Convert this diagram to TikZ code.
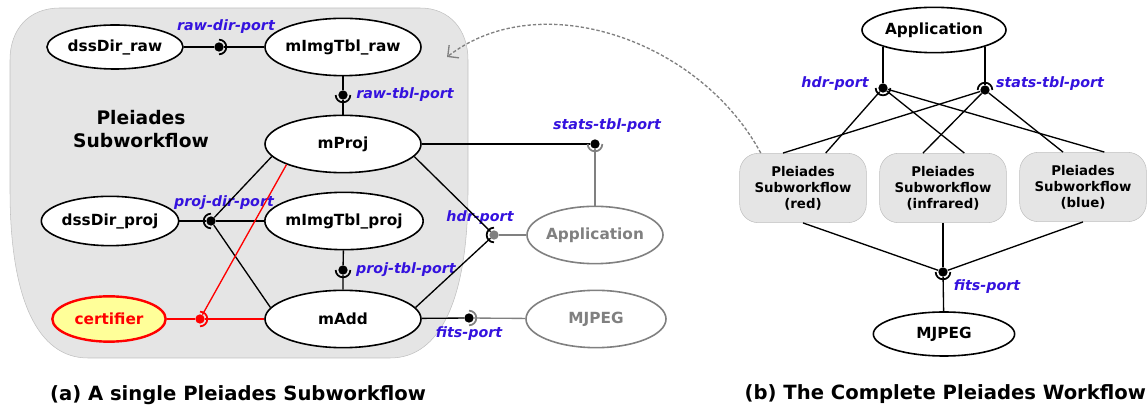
\documentclass[tikz,border=0pt]{standalone}
\usepackage{fontspec}
\setmainfont{DejaVu Sans}
\usepackage{xcolor}
\usetikzlibrary{shapes.geometric}
\usetikzlibrary{arrows.meta,calc}

\definecolor{portblue}{RGB}{52,18,222}
\definecolor{subgray}{RGB}{229,229,229}
\definecolor{edgegray}{RGB}{192,192,192}
\definecolor{compgray}{RGB}{128,128,128}
\definecolor{certfill}{RGB}{255,255,153}

\begin{document}
\begin{tikzpicture} [
       x=0.75pt, y=-0.75pt,
       comp/.style={ellipse, draw, line width=1.2pt, fill=white,
               inner xsep=-2pt, inner ysep=0pt,
               minimum width=117pt, minimum height=43pt,
               font=\fontsize{11.5}{13}\selectfont\bfseries},
       ghost/.style={comp, draw=compgray, text=compgray},
       cert/.style={comp, draw=red, line width=1.8pt, fill=certfill, text=red},
       sub/.style={rectangle, rounded corners=14pt, draw=edgegray, fill=subgray,
               minimum width=95pt, minimum height=52pt, align=center,
               font=\fontsize{10}{12}\selectfont\bfseries},
       port/.style={circle, fill, inner sep=0pt, minimum size=7pt},
       socket/.style={line width=1.3pt},
       portlabel/.style={text=portblue, inner sep=1pt,
               font=\fontsize{10.7}{12}\selectfont\bfseries\itshape},
       line/.style={draw, line width=1pt},
       refer/.style={draw=compgray, line width=1pt, dash pattern=on 2.5pt off 1.5pt,
               -{Straight Barb[length=6pt,width=12pt]}},
       caption/.style={font=\fontsize{14.7}{17}\selectfont\bfseries},
       ]
       \useasboundingbox (0,0) rectangle (1147,409);

       \fill[subgray, draw=edgegray] (60,8) -- (420,8) .. controls (450,8) and (468,30) .. (468,60)
           -- (468,190) .. controls (468,300) and (440,358) .. (390,358)
           -- (88,358) .. controls (38,358) and (10,300) .. (10,190)
           -- (10,60) .. controls (10,30) and (28,8) .. (60,8) -- cycle;
       \coordinate (subedge) at (447,57);
       \node (subtitle) [align=center, font=\fontsize{14}{17}\selectfont\bfseries] at (141,129) {Pleiades\\Subworkflow};

       \node (dssraw) [comp, minimum width=102pt, minimum height=33pt] at (115,47) {dssDir\_raw};
       \node (tblraw) [comp] at (343,47) {mImgTbl\_raw};
       \node (proj) [comp] at (343,144) {mProj};
       \node (dssproj) [comp, minimum width=103pt, minimum height=37pt] at (110,221) {dssDir\_proj};
       \node (tblproj) [comp] at (344,221) {mImgTbl\_proj};
       \node (add) [comp] at (343,319) {mAdd};
       \node (certifier) [cert, minimum width=85pt, minimum height=34pt] at (109,319) {certifier};
       \node (appa) [ghost, minimum width=102pt] at (595,235) {Application};
       \node (mjpega) [ghost, minimum width=105pt] at (596,319) {MJPEG};

       \node (rawdir) [port] at (219,47) {};
       \node (rawtbl) [port] at (343,95) {};
       \node (projdir) [port] at (211,221) {};
       \node (projtbl) [port] at (343,270) {};
       \node (certport) [port, red] at (200,319) {};
       \node (statsa) [port] at (595,144) {};
       \node (hdra) [port, compgray] at (494,235) {};
       \node (fitsa) [port] at (469,318) {};

       \node (rawdirl) [portlabel] at (226,27) {raw-dir-port};
       \node (rawtbll) [portlabel] at (405,95) {raw-tbl-port};
       \node (projdirl) [portlabel] at (224,203) {proj-dir-port};
       \node (projtbll) [portlabel] at (406,270) {proj-tbl-port};
       \node (statsal) [portlabel] at (607,126) {stats-tbl-port};
       \node (hdral) [portlabel] at (480,218) {hdr-port};
       \node (fitsal) [portlabel] at (469,334) {fits-port};

       \node (appb) [comp, minimum width=108pt, minimum height=34pt] at (934,30) {Application};
       \node (redsub) [sub] at (803,188) {Pleiades\\Subworkflow\\(red)};
       \node (irsub) [sub] at (943,188) {Pleiades\\Subworkflow\\(infrared)};
       \node (bluesub) [sub] at (1083,187) {Pleiades\\Subworkflow\\(blue)};
       \node (mjpegb) [comp, minimum width=106pt, minimum height=33pt] at (944,334) {MJPEG};
       \node (hdrb) [port] at (883,88) {};
       \node (statsb) [port] at (985,90) {};
       \node (fitsb) [port] at (943,272) {};
       \node (hdrbl) [portlabel] at (835,84) {hdr-port};
       \node (statsbl) [portlabel] at (1050,84) {stats-tbl-port};
       \node (fitsbl) [portlabel] at (987,287) {fits-port};

       \node (capa) [caption] at (238,395) {(a) A single Pleiades Subworkflow};
       \node (capb) [caption, anchor=west] at (740,394) {(b) The Complete Pleiades Workflow};

       \begin{scope}[every path/.style=line]
       \path (dssraw) -- (rawdir) -- (tblraw);
       \path (tblraw) -- (rawtbl) -- (proj);
       \path (proj.190) -- (projdir) -- (add.171);
       \path (dssproj) -- (projdir) -- (tblproj);
       \path (tblproj) -- (projtbl) -- (add);
       \path (proj) -- (statsa);
       \path (proj.350) -- (hdra) -- (add.9);
       \path (add) -- (fitsa);
       \path (hdrb) -- (hdrb |- appb.198);
       \path (statsb) -- (statsb |- appb.342);
       \path (hdrb) -- ([xshift=17pt]redsub.north);
       \path (hdrb) -- ([xshift=16pt]irsub.north);
       \path (hdrb) -- ([xshift=16pt]bluesub.north);
       \path (statsb) -- ([xshift=-15pt]redsub.north);
       \path (statsb) -- ([xshift=-15pt]irsub.north);
       \path (statsb) -- ([xshift=-15pt]bluesub.north);
       \path (redsub.south) -- (fitsb) -- (mjpegb);
       \path (irsub) -- (fitsb);
       \path (bluesub.south) -- (fitsb);
       \end{scope}
       \begin{scope}[every path/.style={line, red}]
       \path (certifier) -- (certport) -- (add);
       \path (certport) -- (proj.200);
       \end{scope}
       \begin{scope}[every path/.style={line, compgray}]
       \path (statsa) -- (appa);
       \path (hdra) -- (appa);
       \path (fitsa) -- (mjpega);
       \end{scope}

       \draw[socket] (rawdir.center) ++(-90:5.5pt) arc[start angle=-90, end angle=90, radius=5.5pt];
       \draw[socket] (rawtbl.center) ++(180:5.5pt) arc[start angle=180, end angle=360, radius=5.5pt];
       \draw[socket] (projdir.center) ++(90:5.5pt) arc[start angle=90, end angle=270, radius=5.5pt];
       \draw[socket] (projtbl.center) ++(180:5.5pt) arc[start angle=180, end angle=360, radius=5.5pt];
       \draw[socket, red] (certport.center) ++(-90:5.5pt) arc[start angle=-90, end angle=90, radius=5.5pt];
       \draw[socket, compgray] (statsa.center) ++(180:5.5pt) arc[start angle=180, end angle=360, radius=5.5pt];
       \draw[socket] (hdra.center) ++(90:5.5pt) arc[start angle=90, end angle=270, radius=5.5pt];
       \draw[socket, compgray] (fitsa.center) ++(-90:5.5pt) arc[start angle=-90, end angle=90, radius=5.5pt];
       \draw[socket] (hdrb.center) ++(180:5.5pt) arc[start angle=180, end angle=360, radius=5.5pt];
       \draw[socket] (statsb.center) ++(0:5.5pt) arc[start angle=0, end angle=180, radius=5.5pt];
       \draw[socket] (fitsb.center) ++(180:5.5pt) arc[start angle=180, end angle=360, radius=5.5pt];

       \draw[refer] ([xshift=16pt]redsub.north west) .. controls (700,40) and (540,-15) .. (subedge);
\end{tikzpicture}
\end{document}
